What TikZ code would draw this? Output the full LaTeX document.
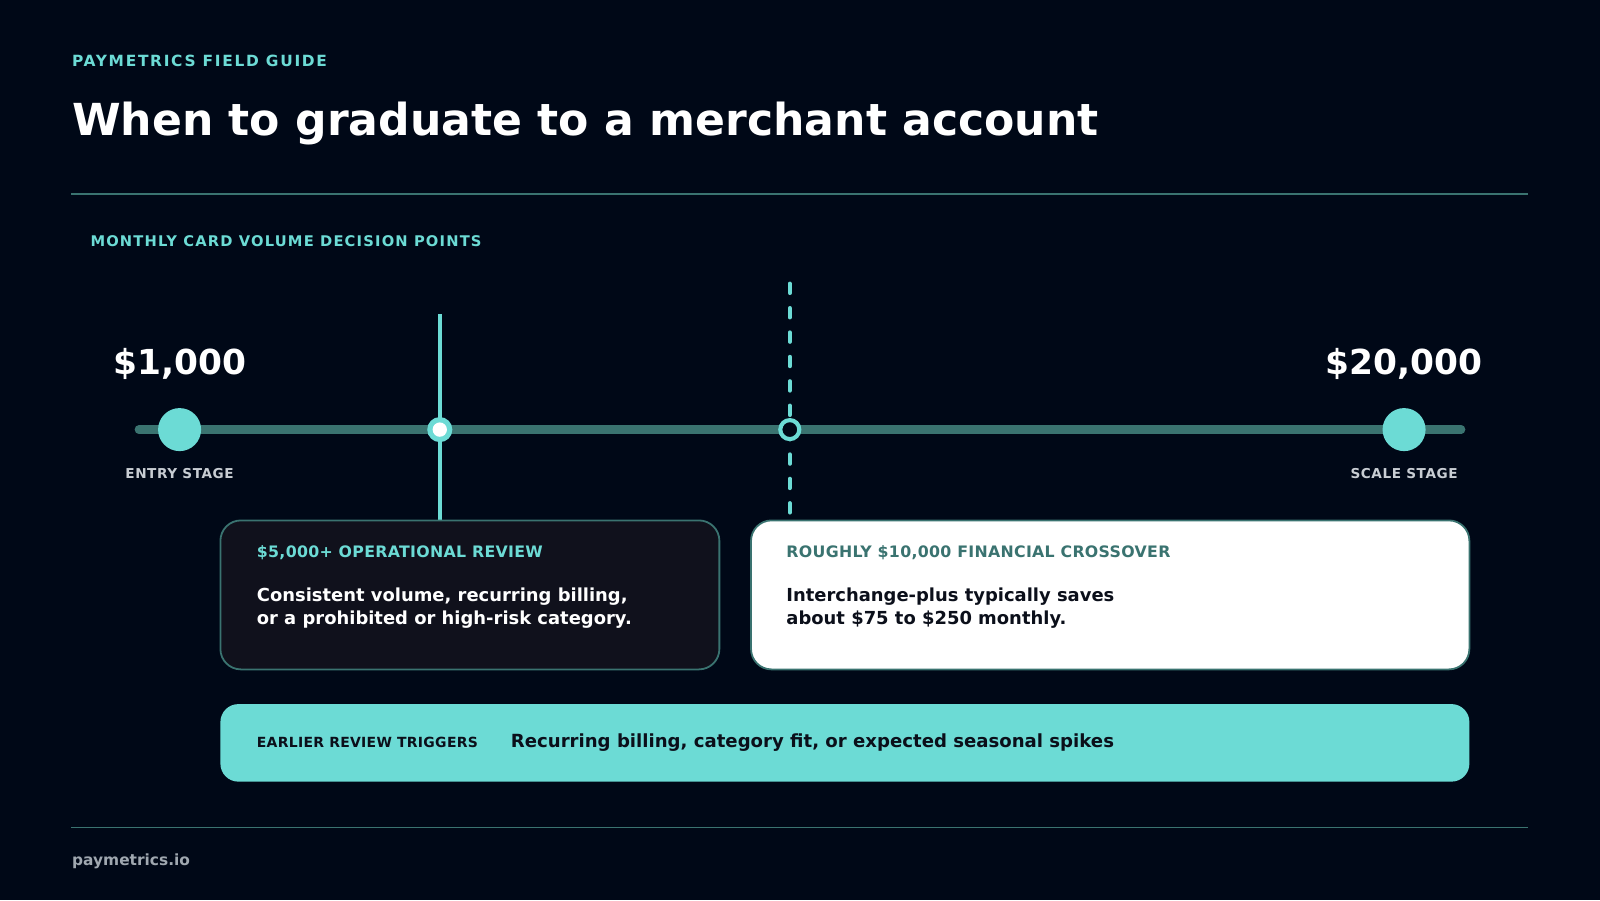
\documentclass[tikz,border=0pt]{standalone}
\usepackage{fontspec}
\setmainfont{DejaVu Sans}
\usetikzlibrary{positioning}
\definecolor{bg}{HTML}{000817}
\definecolor{teal}{HTML}{6CDBD5}
\definecolor{deep}{HTML}{3A7370}
\definecolor{card}{HTML}{10111C}
\definecolor{ink}{HTML}{0B0F1A}
\definecolor{muted}{HTML}{C8CDD3}
\definecolor{foot}{HTML}{A0A8B0}
\tikzset{
  px/.style={x=0.1mm,y=-0.1mm},
  kicker/.style={anchor=west,inner sep=0pt,text=teal,font=\fontsize{4.3}{5}\selectfont\bfseries\addfontfeature{LetterSpace=11}},
  value/.style={inner sep=0pt,text=white,font=\fontsize{9.6}{11}\selectfont\bfseries},
  stage/.style={inner sep=0pt,text=muted,font=\fontsize{3.8}{4.5}\selectfont\bfseries\addfontfeature{LetterSpace=4}},
  head/.style={anchor=west,inner sep=0pt,font=\fontsize{4.4}{5}\selectfont\bfseries\addfontfeature{LetterSpace=2}},
  body/.style={anchor=north west,inner sep=0pt,align=left,font=\fontsize{5.0}{6.4}\selectfont\bfseries},
  rule/.style={draw=deep,line width=0.4pt},
  dot/.style={circle,fill=teal,minimum size=12pt,inner sep=0pt},
}
\begin{document}
\begin{tikzpicture}[px]
\fill[bg] (0,0) rectangle (1568,882);
\useasboundingbox (0,0) rectangle (1568,882);
% header
\node[kicker] (guide) at (70,60) {PAYMETRICS FIELD GUIDE};
\node[anchor=west,inner sep=0pt,text=white,font=\fontsize{12.3}{14}\selectfont\bfseries] (title) at (70,121) {When to graduate to a merchant account};
\draw[rule] (70,190) -- (1497,190);
\node[kicker,font=\fontsize{4.1}{5}\selectfont\bfseries\addfontfeature{LetterSpace=8}] (section) at (88,236) {MONTHLY CARD VOLUME DECISION POINTS};
% track
\coordinate (tl) at (136,421);
\coordinate (tr) at (1432,421);
\draw[deep,line width=2.3pt,line cap=round] (tl) -- (tr);
\node[dot] (entry) at (176,421) {};
\node[dot] (scale) at (1376,421) {};
\node[value] (low) at (176,357) {\$1,000};
\node[value] (high) at (1376,357) {\$20,000};
\node[stage] (entrylbl) at (176,464) {ENTRY STAGE};
\node[stage] (scalelbl) at (1376,464) {SCALE STAGE};
% markers
\coordinate (optop) at (431,308);
\coordinate (opbot) at (431,510);
\draw[teal,line width=1.15pt] (optop) -- (opbot);
\node[circle,fill=teal,minimum size=7pt,inner sep=0pt] (op) at (431,421) {};
\node[circle,fill=white,minimum size=4pt,inner sep=0pt] at (op) {};
\coordinate (fintop) at (774,278);
\coordinate (finbot) at (774,505);
\draw[teal,line width=1.15pt,line cap=round,dash pattern=on 2.6pt off 4.2pt] (fintop) -- (finbot);
\node[circle,fill=bg,draw=teal,line width=1.15pt,minimum size=5.3pt,inner sep=0pt] (fin) at (774,421) {};
% cards
\draw[fill=card,draw=deep,line width=0.5pt,rounded corners=5.7pt] (216,510) rectangle (705,656);
\node[head,text=teal] (ophead) at (251,542) {\$5,000+ OPERATIONAL REVIEW};
\node[body,text=white] (opbody) at (251,575) {Consistent volume, recurring billing,\\or a prohibited or high-risk category.};
\draw[fill=white,draw=deep,line width=0.5pt,rounded corners=5.7pt] (736,510) rectangle (1440,656);
\node[head,text=deep] (finhead) at (770,542) {ROUGHLY \$10,000 FINANCIAL CROSSOVER};
\node[body,text=ink] (finbody) at (770,575) {Interchange-plus typically saves\\about \$75 to \$250 monthly.};
% triggers
\fill[teal,rounded corners=5pt] (216,690) rectangle (1440,766);
\node[anchor=west,inner sep=0pt,text=ink,font=\fontsize{3.9}{5}\selectfont\bfseries\addfontfeature{LetterSpace=2}] (trig) at (251,728) {EARLIER REVIEW TRIGGERS};
\node[anchor=west,inner sep=0pt,text=ink,font=\fontsize{5.05}{6}\selectfont\bfseries] (trigtxt) at (500,728) {Recurring billing, category fit, or expected seasonal spikes};
% footer
\draw[rule] (70,811) -- (1497,811);
\node[anchor=west,inner sep=0pt,text=foot,font=\fontsize{4.3}{5}\selectfont\bfseries] (site) at (70,844) {paymetrics.io};
\end{tikzpicture}
\end{document}
